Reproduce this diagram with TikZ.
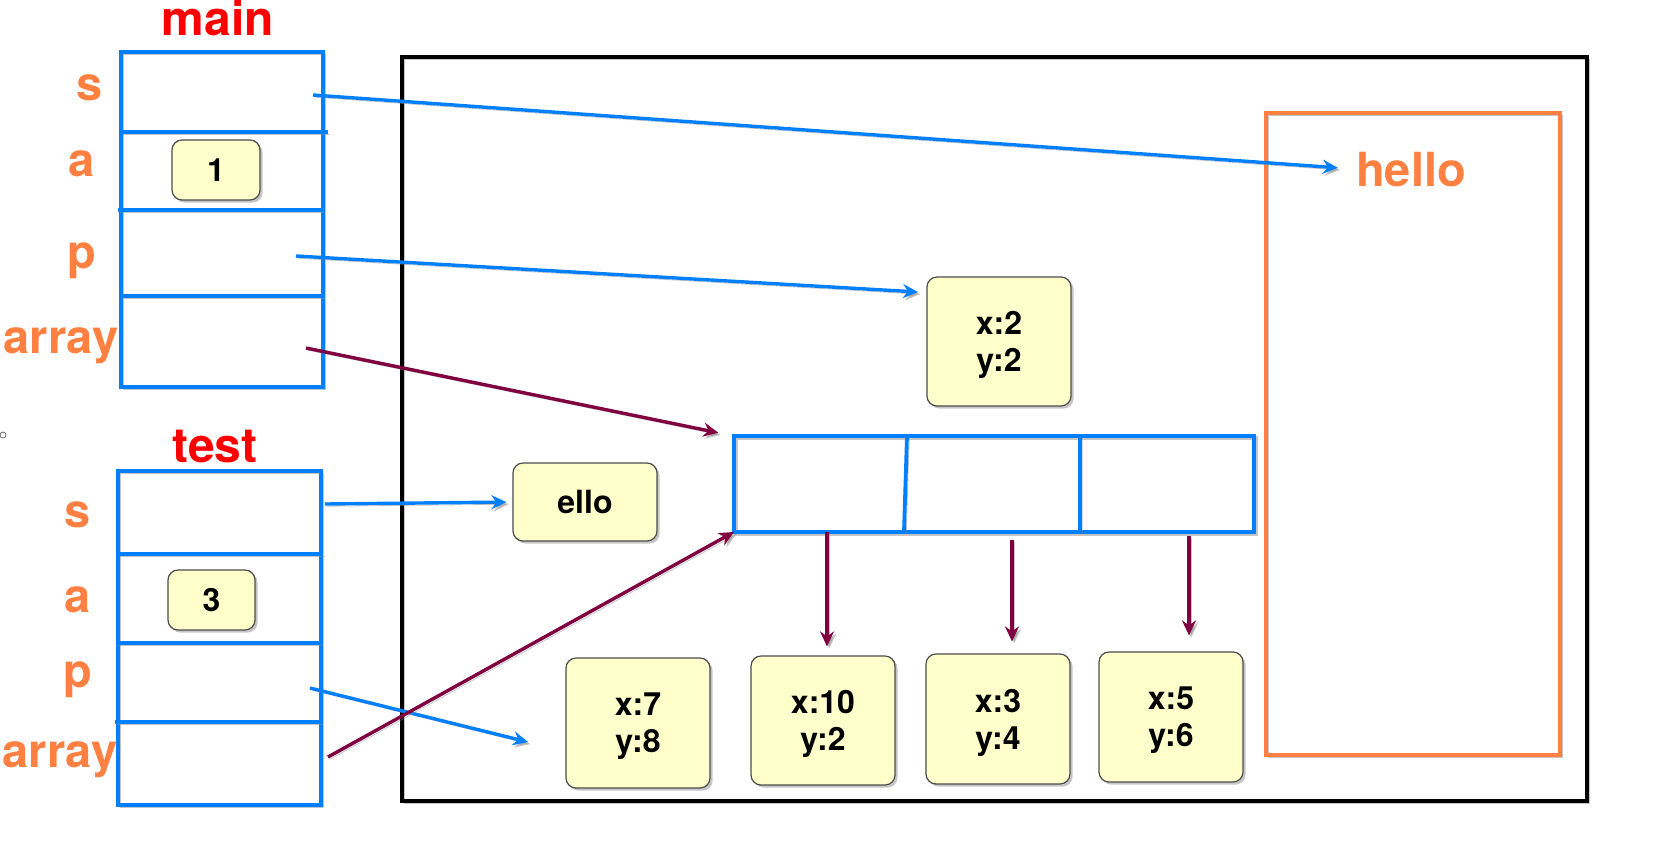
\documentclass[tikz,border=0pt]{standalone}
\usepackage{fontspec}
\setmainfont{TeX Gyre Heros}
\usetikzlibrary{arrows.meta,shadows}
\definecolor{ptrblue}{RGB}{0,128,255}
\definecolor{ptrred}{RGB}{128,0,64}
\definecolor{lblorange}{RGB}{255,128,64}
\definecolor{valyellow}{RGB}{255,255,204}

\begin{document}
\begin{tikzpicture}[x=0.5pt,y=-0.5pt,
    >={Stealth[length=7.5pt,width=7pt,inset=2.5pt]},
    lineshadow/.style={preaction={draw=black!45, opacity=0.5, transform canvas={shift={(1.1pt,-1.1pt)}}}},
    frame/.style={ptrblue, line width=1.9pt, lineshadow},
    var/.style={font=\bfseries\fontsize{23.5}{28}\selectfont, text=lblorange, anchor=base, inner sep=0pt},
    func/.style={font=\bfseries\fontsize{24}{28}\selectfont, text=red, anchor=base, inner sep=0pt},
    val/.style={draw=black!70, line width=0.6pt, fill=valyellow, rounded corners=5pt, align=center,
      font=\bfseries\fontsize{16}{18.5}\selectfont, text depth=-2pt, minimum width=72pt, minimum height=65pt,
      drop shadow={shadow xshift=1.3pt, shadow yshift=-1.3pt, opacity=0.45}},
    bptr/.style={->, ptrblue, line width=1.7pt, lineshadow},
    rptr/.style={->, ptrred, line width=1.7pt, lineshadow}]
              \path[use as bounding box] (0,0) rectangle (1661,842);

              % heap
              \draw[line width=1.9pt, lineshadow] (402,57) rectangle (1587,801);
              \draw[lblorange, line width=1.9pt, lineshadow] (1266,113) rectangle (1560,755);
              \node[var] (hello) at (1411,186) {hello};

              % main frame
              \node[func] (main) at (218,35) {main};
              \draw[frame] (121,52) rectangle (323,387);
              \draw[frame] (121,132) -- (328,132) (118,210) -- (323,210) (120,296) -- (323,296);
              \node[var] (main-s) at (90,100) {s};
              \node[var] (main-a) at (82,176) {a};
              \node[var] (main-p) at (82,268) {p};
              \node[var] (main-arr) at (61,353) {array};
              \node[val, minimum width=44pt, minimum height=30pt] (main-aval) at (216,170) {1};

              % test frame
              \node[func] (test) at (215,462) {test};
              \draw[frame] (118,471) rectangle (321,805);
              \draw[frame] (118,554) -- (323,554) (116,643) -- (321,643) (115,722) -- (321,722);
              \node[var] (test-s) at (78,527) {s};
              \node[var] (test-a) at (78,612) {a};
              \node[var] (test-p) at (78,687) {p};
              \node[var] (test-arr) at (60,767) {array};
              \node[val, minimum width=43.5pt, minimum height=30pt] (test-aval) at (211.5,600) {3};

              \draw[black!60, line width=0.4pt] (3,435) circle (1.5pt);

              % objects
              \node[val, minimum height=64.5pt] (pt22) at (999,341.5) {x:2\\y:2};
              \node[val, minimum height=39pt] (ello) at (585,502) {ello};
              \node[val] (pt78) at (638,723) {x:7\\y:8};
              \node[val, minimum height=64.5pt] (pt102) at (823,720.5) {x:10\\y:2};
              \node[val] (pt34) at (998,719) {x:3\\y:4};
              \node[val] (pt56) at (1171,717) {x:5\\y:6};

              \node[draw=ptrblue, line width=1.9pt, lineshadow, inner sep=0pt, outer sep=0pt,
                minimum width=260pt, minimum height=48pt] (arr) at (994,484) {};
              \draw[frame] (907,436) -- (904,532) (1080,436) -- (1080,532);

              % pointers
              \coordinate (main-s-ptr) at (313,95);
              \coordinate (main-p-ptr) at (296,256);
              \coordinate (main-arr-ptr) at (306,348);
              \coordinate (test-s-ptr) at (325,504);
              \coordinate (test-p-ptr) at (310,688);
              \coordinate (test-arr-ptr) at (328,757);
              \coordinate (main-p-end) at (918,292);
              \coordinate (test-p-end) at (528,742);
              \coordinate (el1) at (827,532);
              \coordinate (el2) at (1012,540);
              \coordinate (el3) at (1189,536);

              \draw[bptr, shorten >=9pt] (main-s-ptr) -- (hello.west);
              \draw[bptr] (main-p-ptr) -- (main-p-end);
              \draw[rptr, shorten >=8pt] (main-arr-ptr) -- (arr.north west);
              \draw[bptr, shorten >=3pt] (test-s-ptr) -- (ello.west);
              \draw[bptr] (test-p-ptr) -- (test-p-end);
              \draw[rptr] (test-arr-ptr) -- (arr.south west);

              \draw[rptr, shorten >=4.5pt] (el1) -- (el1 |- pt102.north);
              \draw[rptr, shorten >=6pt] (el2) -- (el2 |- pt34.north);
              \draw[rptr, shorten >=8pt] (el3) -- (el3 |- pt56.north);
            \end{tikzpicture}
\end{document}
